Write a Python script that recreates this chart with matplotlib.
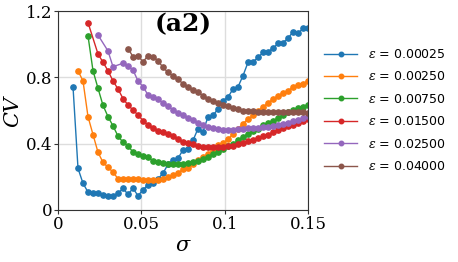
import numpy as np
import matplotlib
matplotlib.use("Agg")
import matplotlib.pyplot as plt

plt.rcParams["mathtext.fontset"] = "dejavuserif"

# sigma grid: 0.003 * k
step = 0.003

eps_labels = ["0.00025", "0.00250", "0.00750", "0.01500", "0.02500", "0.04000"]

k_blue = list(range(3, 51))
cv_blue = [0.744, 0.251, 0.161, 0.108, 0.105, 0.100, 0.090, 0.084, 0.084, 0.100,
           0.131, 0.094, 0.131, 0.086, 0.121, 0.153, 0.163, 0.187, 0.222, 0.275,
           0.302, 0.312, 0.362, 0.365, 0.420, 0.490, 0.472, 0.562, 0.570, 0.610,
           0.660, 0.680, 0.730, 0.742, 0.810, 0.890, 0.893, 0.920, 0.950, 0.955,
           0.975, 1.005, 1.010, 1.035, 1.075, 1.065, 1.095, 1.100]

k_orange = list(range(4, 51))
cv_orange = [0.840, 0.778, 0.563, 0.455, 0.348, 0.287, 0.258, 0.228, 0.189, 0.186,
             0.187, 0.186, 0.185, 0.182, 0.180, 0.178, 0.180, 0.187, 0.200, 0.210,
             0.225, 0.245, 0.252, 0.280, 0.300, 0.320, 0.337, 0.360, 0.390, 0.405,
             0.426, 0.460, 0.490, 0.520, 0.550, 0.570, 0.600, 0.620, 0.647, 0.667,
             0.687, 0.707, 0.720, 0.740, 0.754, 0.762, 0.778]

k_green = list(range(6, 51))
cv_green = [1.050, 0.840, 0.734, 0.631, 0.563, 0.507, 0.446, 0.408, 0.388, 0.348,
            0.336, 0.328, 0.318, 0.297, 0.291, 0.281, 0.277, 0.277, 0.275, 0.277,
            0.281, 0.287, 0.297, 0.307, 0.320, 0.337, 0.350, 0.370, 0.385, 0.398,
            0.420, 0.440, 0.460, 0.478, 0.490, 0.510, 0.527, 0.538, 0.553, 0.573,
            0.593, 0.603, 0.613, 0.620, 0.633]

k_red = [6] + list(range(8, 51))
cv_red = [1.130, 0.941, 0.891, 0.840, 0.778, 0.730, 0.672, 0.633, 0.603, 0.573,
          0.539, 0.513, 0.493, 0.478, 0.469, 0.458, 0.446, 0.428, 0.412, 0.402,
          0.395, 0.386, 0.382, 0.378, 0.377, 0.377, 0.380, 0.383, 0.388, 0.395,
          0.405, 0.415, 0.425, 0.435, 0.445, 0.455, 0.468, 0.480, 0.492, 0.505,
          0.515, 0.525, 0.537, 0.550]

k_purple = [8, 10, 11] + list(range(13, 51))
cv_purple = [1.055, 0.959, 0.864, 0.885, 0.868, 0.844, 0.778, 0.744, 0.694, 0.680,
             0.670, 0.643, 0.627, 0.603, 0.587, 0.575, 0.555, 0.540, 0.527, 0.513,
             0.503, 0.493, 0.487, 0.485, 0.485, 0.485, 0.487, 0.490, 0.493, 0.493,
             0.496, 0.500, 0.503, 0.508, 0.513, 0.520, 0.527, 0.537, 0.545, 0.555,
             0.565]

k_brown = list(range(14, 51))
cv_brown = [0.973, 0.925, 0.931, 0.893, 0.931, 0.925, 0.900, 0.860, 0.830, 0.808,
            0.790, 0.760, 0.740, 0.725, 0.710, 0.690, 0.672, 0.655, 0.645, 0.635,
            0.625, 0.615, 0.607, 0.600, 0.597, 0.595, 0.592, 0.590, 0.588, 0.588,
            0.588, 0.590, 0.590, 0.590, 0.588, 0.588, 0.585]

series = [(k_blue, cv_blue), (k_orange, cv_orange), (k_green, cv_green),
          (k_red, cv_red), (k_purple, cv_purple), (k_brown, cv_brown)]

fig = plt.figure(figsize=(4.58, 2.62), dpi=100)
ax = fig.add_axes([58 / 458, 1 - 210 / 262, 250 / 458, 199 / 262])

for (k, cv), lab in zip(series, eps_labels):
    ax.plot(np.array(k) * step, cv, marker="o", markersize=3.8, linewidth=1,
            label=r"$\varepsilon$ = " + lab)

ax.set_xlim(0, 0.15)
ax.set_ylim(0, 1.2)
ax.set_xticks([0, 0.05, 0.1, 0.15])
ax.set_xticklabels(["0", "0.05", "0.1", "0.15"], family="DejaVu Serif", fontsize=12)
ax.set_yticks([0, 0.4, 0.8, 1.2])
ax.set_yticklabels(["0", "0.4", "0.8", "1.2"], family="DejaVu Serif", fontsize=12)
ax.tick_params(length=3, width=0.8, pad=1, colors="#333333", labelcolor="black")
ax.grid(True, color="#dddddd", linewidth=1)
ax.set_axisbelow(True)
for s in ax.spines.values():
    s.set_color("#333333")
    s.set_linewidth(0.8)

ax.set_xlabel(r"$\sigma$", fontsize=15, labelpad=2)
ax.set_ylabel(r"$CV$", fontsize=15, labelpad=2)
ax.text(0.5, 0.935, "(a2)", transform=ax.transAxes, ha="center", va="center",
        fontsize=18, fontweight="bold", family="DejaVu Serif")

ax.legend(loc="center left", bbox_to_anchor=(1.02, 0.5), frameon=False,
          fontsize=9, handlelength=2.6, labelspacing=0.75, handletextpad=0.9,
          markerscale=0.85)

fig.savefig("out.png", dpi=100)
